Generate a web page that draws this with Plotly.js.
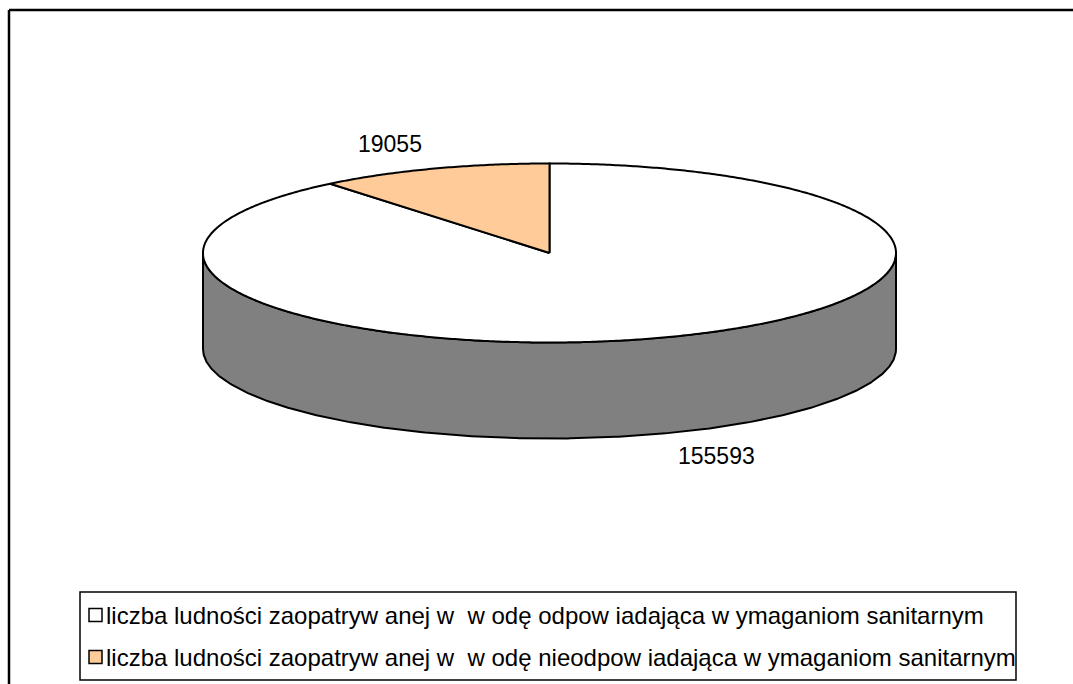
<!DOCTYPE html>
<html>
<head>
<meta charset="utf-8">
<script src="https://cdn.plot.ly/plotly-3.0.1.min.js"></script>
<style>html,body{margin:0;padding:0;background:#fff;}#chart{width:1073px;height:684px;}</style>
</head>
<body>
<div id="chart"></div>
<script>
// ---- data ----
var categories = [
  "liczba ludności zaopatryw anej w  w odę odpow iadająca w ymaganiom sanitarnym",
  "liczba ludności zaopatryw anej w  w odę nieodpow iadająca w ymaganiom sanitarnym"
];
var values = [155593, 19055];
var topColors = ["#FFFFFF", "#FFCC99"];
var sideColors = ["#808080", "#B38F6B"];
var labelPos = [[716, 456], [390, 144]];

// ---- geometry of the 3D pie (layout only) ----
var cx = 549.5, cy = 253, rx = 346.5, ry = 89.5, depth = 96;
function pt(theta, dy) {
  var r = theta * Math.PI / 180;
  return [cx + rx * Math.sin(r), cy - ry * Math.cos(r) + (dy || 0)];
}
function arc(a0, a1, dy) {
  var xs = [], ys = [], n = Math.max(2, Math.ceil(Math.abs(a1 - a0) / 0.5));
  for (var i = 0; i <= n; i++) {
    var p = pt(a0 + (a1 - a0) * i / n, dy);
    xs.push(p[0]); ys.push(p[1]);
  }
  return [xs, ys];
}

var total = values.reduce(function (a, b) { return a + b; }, 0);
var starts = [], ends = [], acc = 0;
values.forEach(function (v) {
  starts.push(acc / total * 360);
  acc += v;
  ends.push(acc / total * 360);
});

var traces = [];
// side walls (front visible half: 90..270 deg)
values.forEach(function (v, i) {
  var a0 = Math.max(starts[i], 90), a1 = Math.min(ends[i], 270);
  if (a1 <= a0) return;
  var top = arc(a0, a1, 0), bot = arc(a1, a0, depth);
  traces.push({
    type: "scatter", mode: "lines",
    x: top[0].concat(bot[0], [top[0][0]]),
    y: top[1].concat(bot[1], [top[1][0]]),
    fill: "toself", fillcolor: sideColors[i],
    line: { color: "#000", width: 2 },
    hoverinfo: "skip", showlegend: false
  });
});
// top faces
values.forEach(function (v, i) {
  var a = arc(starts[i], ends[i], 0);
  traces.push({
    type: "scatter", mode: "lines",
    x: [cx].concat(a[0], [cx]),
    y: [cy].concat(a[1], [cy]),
    fill: "toself", fillcolor: topColors[i],
    line: { color: "#000", width: 2, simplify: false },
    hoverinfo: "skip", showlegend: false
  });
});

var shapes = [
  // outer chart frame
  { type: "line", xref: "x", yref: "y", x0: 9, y0: 10, x1: 1080, y1: 10, line: { color: "#000", width: 2.5 } },
  { type: "line", xref: "x", yref: "y", x0: 9, y0: 10, x1: 9, y1: 690, line: { color: "#000", width: 2.5 } },
  // legend box
  { type: "rect", xref: "x", yref: "y", x0: 80, y0: 592, x1: 1016, y1: 680, line: { color: "#000", width: 1.5 }, fillcolor: "#fff", layer: "below" }
];
var annotations = [];
var legendRows = [615, 657];
categories.forEach(function (c, i) {
  shapes.push({ type: "rect", xref: "x", yref: "y", x0: 89, x1: 102, y0: legendRows[i] - 6.5, y1: legendRows[i] + 6.5,
    fillcolor: topColors[i], line: { color: "#000", width: 1.5 } });
  annotations.push({ x: 104, y: legendRows[i], xref: "x", yref: "y", text: c, showarrow: false,
    xanchor: "left", yanchor: "middle", font: { family: "Liberation Sans, Arial, sans-serif", size: 24, color: "#000" } });
});
values.forEach(function (v, i) {
  annotations.push({ x: labelPos[i][0], y: labelPos[i][1], xref: "x", yref: "y", text: String(v), showarrow: false,
    xanchor: "center", yanchor: "middle", font: { family: "Liberation Sans, Arial, sans-serif", size: 23, color: "#000" } });
});

var layout = {
  width: 1073, height: 684,
  margin: { l: 0, r: 0, t: 0, b: 0, pad: 0 },
  paper_bgcolor: "#fff", plot_bgcolor: "#fff",
  showlegend: false,
  xaxis: { range: [0, 1073], visible: false, fixedrange: true },
  yaxis: { range: [684, 0], visible: false, fixedrange: true },
  shapes: shapes,
  annotations: annotations
};
Plotly.newPlot("chart", traces, layout, { staticPlot: true, displayModeBar: false });
</script>
</body>
</html>
